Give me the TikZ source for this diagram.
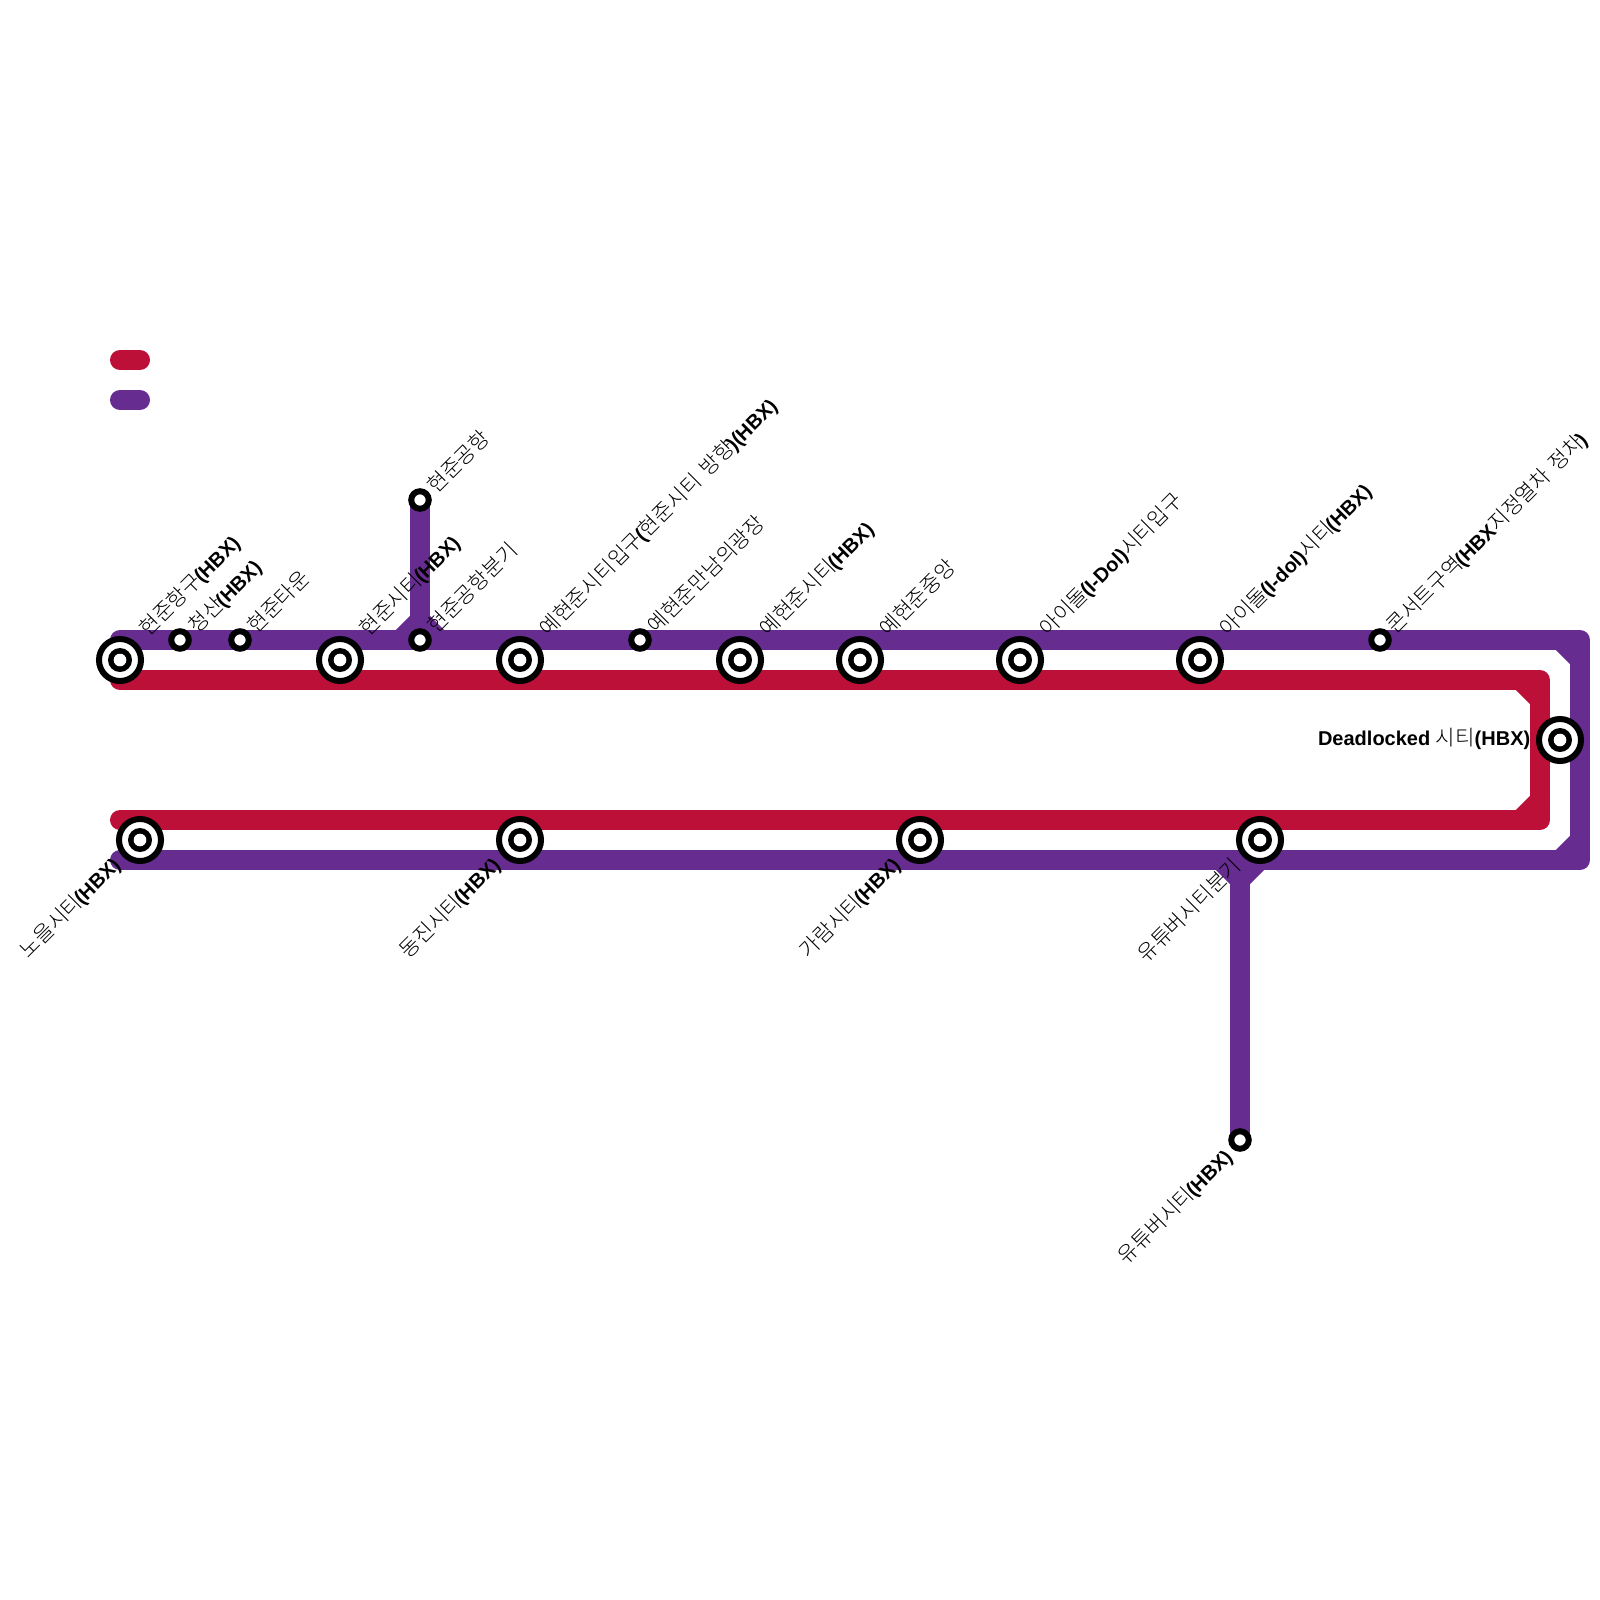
\documentclass[tikz,border=0pt]{standalone}
\usepackage{fontspec}
\setmainfont{Liberation Sans}
\newfontfamily\cjk[Scale=1.055]{Noto Sans CJK KR Light}
\newcommand{\kr}[1]{{\cjk #1}}
\newcommand{\bb}[1]{{\bfseries #1}}
\newcommand{\hb}[1]{\kern-0.02cm{\bfseries #1}}
\newcommand{\gap}{\hskip 0.08cm\relax}
\definecolor{linered}{HTML}{BD1038}
\definecolor{linepurple}{HTML}{662C90}
\tikzset{
  redline/.style={draw=linered, line width=0.2cm, line join=round, line cap=round},
  purpleline/.style={draw=linepurple, line width=0.2cm, line join=round, line cap=round},
  bigstn/.style={circle, draw=black, fill=white, line width=0.06cm, minimum size=0.42cm, inner sep=0pt, path picture={\fill[black] (path picture bounding box.center) circle (0.12cm); \fill[white] (path picture bounding box.center) circle (0.063cm);}},
  smallstn/.style={circle, draw=black, fill=white, line width=0.06cm, minimum size=0.175cm, inner sep=0pt},
  uplabel/.style={rotate=45, anchor=base west, inner sep=0pt, font=\fontsize{5.69}{7}\selectfont},
  downlabel/.style={rotate=45, anchor=base east, inner sep=0pt, font=\fontsize{5.69}{7}\selectfont}
}
\begin{document}
\begin{tikzpicture}[x=0.01cm, y=-0.01cm]
\useasboundingbox (0, 0) rectangle (1600, 1600);
\coordinate (redA) at (120, 680);
\coordinate (redB) at (1540, 680);
\coordinate (redC) at (1540, 820);
\coordinate (redD) at (120, 820);
\coordinate (purA) at (120, 640);
\coordinate (purB) at (1580, 640);
\coordinate (purC) at (1580, 860);
\coordinate (purD) at (120, 860);
\coordinate (airport) at (420, 500);
\coordinate (airportfork) at (420, 640);
\coordinate (tuber) at (1240, 1140);
\coordinate (tuberfork) at (1240, 860);
\draw[redline] (120, 360) -- (140, 360); %legend red
\draw[purpleline] (120, 400) -- (140, 400); %legend purple
\draw[redline] (redA) -- (redB) -- (redC) -- (redD); %red loop
\draw[redline] (1520, 680) -- (1540, 700); %red corners
\draw[redline] (1540, 800) -- (1520, 820);
\draw[purpleline] (purA) -- (purB) -- (purC) -- (purD); %purple loop
\draw[purpleline] (1560, 640) -- (1580, 660); %purple corners
\draw[purpleline] (1580, 840) -- (1560, 860);
\draw[purpleline] (airport) -- (airportfork); %airport branch
\draw[purpleline] (400, 640) -- (420, 620) -- (440, 640);
\draw[purpleline] (tuberfork) -- (tuber); %tuber branch
\draw[purpleline] (1220, 860) -- (1240, 880) -- (1260, 860);
\node[bigstn] (harbor) at (120, 660) {};
\node[smallstn] (cheongsan) at (180, 640) {};
\node[smallstn] (town) at (240, 640) {};
\node[bigstn] (hyeonjun) at (340, 660) {};
\node[smallstn] (airportstn) at (airport) {};
\node[smallstn] (forkstn) at (airportfork) {};
\node[bigstn] (entrance) at (520, 660) {};
\node[smallstn] (plaza) at (640, 640) {};
\node[bigstn] (yehyeon) at (740, 660) {};
\node[bigstn] (central) at (860, 660) {};
\node[bigstn] (idolgate) at (1020, 660) {};
\node[bigstn] (idol) at (1200, 660) {};
\node[smallstn] (concert) at (1380, 640) {};
\node[bigstn] (deadlocked) at (1560, 740) {};
\node[bigstn] (noeul) at (140, 840) {};
\node[bigstn] (dongjin) at (520, 840) {};
\node[bigstn] (garam) at (920, 840) {};
\node[bigstn] (tuberjct) at (1260, 840) {};
\node[smallstn] (tuberstn) at (tuber) {};
\node[uplabel] (harborlabel) at (148, 638) {\kr{현준항구}\hb{(HBX)}};
\node[uplabel] (cheongsanlabel) at (197, 635) {\kr{청산}\hb{(HBX)}};
\node[uplabel] (townlabel) at (256, 635) {\kr{현준타운}};
\node[uplabel] (hyeonjunlabel) at (368, 638) {\kr{현준시티}\hb{(HBX)}};
\node[uplabel] (airportlabel) at (436, 495) {\kr{현준공항}};
\node[uplabel] (forklabel) at (436, 635) {\kr{현준공항분기}};
\node[uplabel] (entrancelabel) at (548, 638) {\kr{예현준시티입구}\hb{(}\kr{현준시티}\gap\kr{방향}\hb{)(HBX)}};
\node[uplabel] (plazalabel) at (656, 635) {\kr{예현준만남의광장}};
\node[uplabel] (yehyeonlabel) at (768, 638) {\kr{예현준시티}\hb{(HBX)}};
\node[uplabel] (centrallabel) at (888, 638) {\kr{예현준중앙}};
\node[uplabel] (idolgatelabel) at (1048, 638) {\kr{아이돌}\hb{(I-Dol)}\kr{시티입구}};
\node[uplabel] (idollabel) at (1228, 638) {\kr{아이돌}\hb{(I-dol)}\kr{시티}\hb{(HBX)}};
\node[uplabel] (concertlabel) at (1395, 635) {\kr{콘서트구역}\hb{(HBX}\kr{지정열차}\gap\kr{정차}\hb{)}};
\node[downlabel] (noeullabel) at (122, 866) {\kr{노을시티}\hb{(HBX)}};
\node[downlabel] (dongjinlabel) at (502, 866) {\kr{동진시티}\hb{(HBX)}};
\node[downlabel] (garamlabel) at (902, 866) {\kr{가람시티}\hb{(HBX)}};
\node[downlabel] (forklabelb) at (1243, 867) {\kr{유튜버시티분기}};
\node[downlabel] (tuberlabel) at (1234, 1158) {\kr{유튜버시티}\hb{(HBX)}};
\node[anchor=base east, inner sep=0pt, font=\fontsize{5.69}{7}\selectfont] (deadlockedlabel) at (1531, 745) {\bb{Deadlocked} \kr{시티}\bb{(HBX)}};
\end{tikzpicture}
\end{document}
